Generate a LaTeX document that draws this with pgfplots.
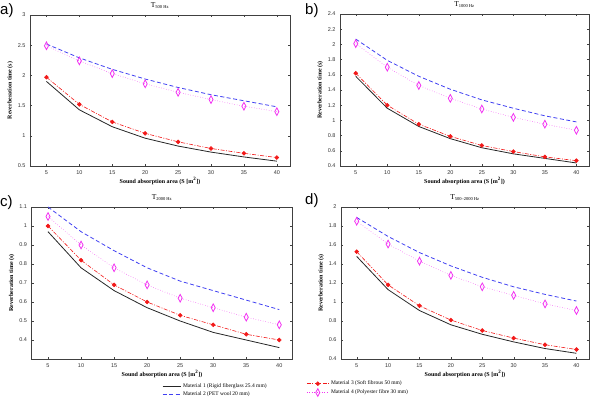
\documentclass[border=0pt]{standalone}
\usepackage{fontspec}
\setmainfont{Liberation Serif}
\newfontfamily\ticksans{Liberation Sans}
\usepackage{pgfplots}
\pgfplotsset{compat=1.18}
\definecolor{mblue}{rgb}{0.25,0.25,0.95}
\definecolor{mred}{rgb}{0.95,0.1,0.1}
\definecolor{mmag}{rgb}{0.95,0.2,0.95}
\pgfplotsset{
  panel/.style={
    scale only axis, anchor=south west,
    xmin=2.5, xmax=42, xtick={5,10,...,40},
    axis line style={black!75, line width=0.4pt},
    major tick length=2pt,
    tick style={black!75, line width=0.3pt},
    tick label style={font=\ticksans\fontsize{5.5}{6}\selectfont, text=black!80},
    /pgf/number format/assume math mode=true,
    xticklabel style={yshift=-1pt},
    yticklabel style={xshift=-1pt},
    xlabel={\textbf{Sound absorption area (S [m\textsuperscript{2}])}},
    ylabel={\textbf{Reverberation time (s)}},
    label style={font=\fontsize{6}{7}\selectfont},
    xlabel style={yshift=4pt},
    ylabel style={yshift=-2pt},
    title style={font=\fontsize{7.5}{8}\selectfont, yshift=-3pt},
    clip=false,
  },
  m1/.style={black!85, line width=0.8pt, mark=none},
  m2/.style={mblue, line width=0.8pt, dash pattern=on 4pt off 2.5pt, mark=none},
  m3/.style={mred, line width=0.6pt, dash pattern=on 4pt off 1.5pt on 1pt off 1.5pt, mark=*, mark size=1.9pt, mark options={solid, fill=mred, draw=mred}},
  m4/.style={mmag, line width=0.5pt, dotted, mark=diamond, mark size=3.2pt, mark options={solid, line width=0.8pt, draw=mmag, xscale=0.85, yscale=1.2}},
}
\begin{document}
\begin{tikzpicture}
\useasboundingbox (0pt,0pt) rectangle (600pt,399pt);
% a)
\begin{axis}[panel, at={(30pt,233pt)}, width=260pt, height=151pt,
  ymin=0.5, ymax=3, ytick={0.5,1,...,3},
  title={T\textsubscript{\fontsize{4.5}{5}\selectfont 500 Hz}}]
\addplot[m1] coordinates {(5,1.90)(10,1.43)(15,1.15)(20,0.96)(25,0.83)(30,0.73)(35,0.65)(40,0.58)};
\addplot[m2] coordinates {(5,2.52)(10,2.29)(15,2.10)(20,1.94)(25,1.80)(30,1.68)(35,1.58)(40,1.48)};
\addplot[m3] coordinates {(5,1.97)(10,1.52)(15,1.23)(20,1.04)(25,0.90)(30,0.79)(35,0.71)(40,0.64)};
\addplot[m4] coordinates {(5,2.49)(10,2.24)(15,2.03)(20,1.86)(25,1.72)(30,1.60)(35,1.49)(40,1.40)};
\end{axis}
% b)
\begin{axis}[panel, at={(340pt,233pt)}, width=249pt, height=152pt,
  ymin=0.4, ymax=2.4, ytick={0.4,0.6,...,2.41},
  title={T\textsubscript{\fontsize{4.5}{5}\selectfont 1000 Hz}}]
\addplot[m1] coordinates {(5,1.58)(10,1.16)(15,0.92)(20,0.76)(25,0.64)(30,0.56)(35,0.50)(40,0.44)};
\addplot[m2] coordinates {(5,2.07)(10,1.79)(15,1.58)(20,1.41)(25,1.27)(30,1.16)(35,1.06)(40,0.98)};
\addplot[m3] coordinates {(5,1.62)(10,1.20)(15,0.95)(20,0.79)(25,0.67)(30,0.59)(35,0.52)(40,0.47)};
\addplot[m4] coordinates {(5,2.01)(10,1.70)(15,1.46)(20,1.29)(25,1.15)(30,1.04)(35,0.95)(40,0.87)};
\end{axis}
% c)
\begin{axis}[panel, at={(31.5pt,40pt)}, width=261pt, height=152pt,
  ymin=0.3, ymax=1.1, ytick={0.4,0.5,...,1.11},
  title={T\textsubscript{\fontsize{4.5}{5}\selectfont 2000 Hz}},
  legend style={at={(0.5,-0.15)}, anchor=north west, draw=none, fill=none,
    font=\fontsize{5.5}{6}\selectfont, row sep=-1.5pt, inner sep=0pt},
  legend cell align=left,
  legend image code/.code={\draw[#1] (0pt,0pt) -- (18pt,0pt);}]
\addplot[m1] coordinates {(5,0.97)(10,0.78)(15,0.66)(20,0.57)(25,0.50)(30,0.44)(35,0.40)(40,0.36)};
\addlegendentry{Material 1 (Rigid fiberglass 25.4 mm)}
\addplot[m2] coordinates {(5,1.10)(10,0.97)(15,0.87)(20,0.78)(25,0.71)(30,0.66)(35,0.61)(40,0.56)};
\addlegendentry{Material 2 (PET wool 20 mm)}
\addplot[m3, forget plot] coordinates {(5,1.00)(10,0.82)(15,0.69)(20,0.60)(25,0.53)(30,0.48)(35,0.43)(40,0.40)};
\addplot[m4, forget plot] coordinates {(5,1.05)(10,0.90)(15,0.78)(20,0.69)(25,0.62)(30,0.57)(35,0.52)(40,0.48)};
\end{axis}
% d)
\begin{axis}[panel, at={(341pt,40pt)}, width=248pt, height=152pt,
  ymin=0.4, ymax=2, ytick={0.4,0.6,...,2.01},
  title={T\textsubscript{\fontsize{4.5}{5}\selectfont 500--2000 Hz}},
  legend style={at={(-0.14,-0.13)}, anchor=north west, draw=none, fill=none,
    font=\fontsize{5.5}{6}\selectfont, row sep=-0.5pt, inner sep=0pt},
  legend cell align=left,
  legend image code/.code={\draw[#1, mark repeat=2, mark phase=2] plot coordinates {(0pt,0pt) (11pt,0pt) (22pt,0pt)};}]
\addplot[m1, forget plot] coordinates {(5,1.48)(10,1.13)(15,0.91)(20,0.76)(25,0.66)(30,0.58)(35,0.51)(40,0.46)};
\addplot[m2, forget plot] coordinates {(5,1.89)(10,1.69)(15,1.52)(20,1.38)(25,1.26)(30,1.16)(35,1.08)(40,1.01)};
\addplot[m3] coordinates {(5,1.53)(10,1.18)(15,0.96)(20,0.81)(25,0.70)(30,0.62)(35,0.55)(40,0.50)};
\addlegendentry{Material 3 (Soft fibrous 50 mm)}
\addplot[m4] coordinates {(5,1.85)(10,1.61)(15,1.43)(20,1.28)(25,1.16)(30,1.07)(35,0.98)(40,0.91)};
\addlegendentry{Material 4 (Polyester fibre 30 mm)}
\end{axis}
\node[font=\ticksans\fontsize{15}{15}\selectfont, anchor=north west, inner sep=0pt] at (0pt,396pt) {a)};
\node[font=\ticksans\fontsize{15}{15}\selectfont, anchor=north west, inner sep=0pt] at (305pt,396pt) {b)};
\node[font=\ticksans\fontsize{15}{15}\selectfont, anchor=north west, inner sep=0pt] at (0pt,204pt) {c)};
\node[font=\ticksans\fontsize{15}{15}\selectfont, anchor=north west, inner sep=0pt] at (305pt,206pt) {d)};
\end{tikzpicture}
\end{document}
